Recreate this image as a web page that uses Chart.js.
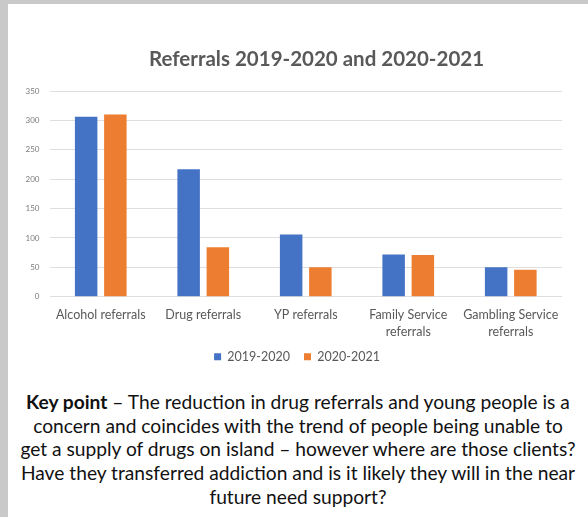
<!DOCTYPE html>
<html>
<head>
<meta charset="utf-8">
<script src="https://cdn.jsdelivr.net/npm/chart.js@4.4.0/dist/chart.umd.min.js"></script>
<style>
	body { margin: 0; background: #c9c9c9; width: 588px; height: 517px; overflow: hidden; }
	#panel { position: absolute; left: 8px; top: 4px; width: 580px; height: 513px; background: #fff; }
	#chartbox { position: absolute; left: 0; top: 0; width: 580px; height: 369px; }
	#titulo {
		position: absolute; left: 141px; top: 42px; width: 340px; height: 25px;
		font-family: Lato, sans-serif; font-weight: bold; font-size: 20.5px; line-height: 25px;
		color: #595959; text-align: left; white-space: nowrap;
	}
	#keypoint {
		position: absolute; left: -10px; top: 386px; width: 600px;
		font-family: Lato, sans-serif; font-size: 19.2px; line-height: 23.7px;
		color: #111; text-align: center; white-space: nowrap;
	}
</style>
</head>
<body>
<div id="panel">
	<div id="chartbox"><canvas id="mycanvas"></canvas></div>
	<div id="titulo">Referrals 2019-2020 and 2020-2021</div>
	<div id="keypoint">
		<b>Key point</b> – The reduction in drug referrals and young people is a<br>
		concern and coincides with the trend of people being unable to<br>
		get a supply of drugs on island – however where are those clients?<br>
		Have they transferred addiction and is it likely they will in the near<br>
		future need support?
	</div>
</div>
<script>
var categorias = [
	"Alcohol referrals",
	"Drug referrals",
	"YP referrals",
	["Family Service", "referrals"],
	["Gambling Service", "referrals"]
];
var referrals_2019_2020 = [306, 217, 106, 72, 50];
var referrals_2020_2021 = [310, 84, 50, 71, 46];
var eixo_y = [0, 50, 100, 150, 200, 250, 300, 350];

var chartdata = {
	labels: categorias,
	datasets: [
		{
			label: "2019-2020",
			backgroundColor: "#4472C4",
			data: referrals_2019_2020,
			barPercentage: 0.77,
			categoryPercentage: 0.57
		},
		{
			label: "2020-2021",
			backgroundColor: "#ED7D31",
			data: referrals_2020_2021,
			barPercentage: 0.77,
			categoryPercentage: 0.57
		}
	]
};

// legend sits a bit right of the canvas centre in the original
var moveLegend = {
	id: 'moveLegend',
	afterLayout: function(chart) {
		chart.legend.left += 12;
		chart.legend.right += 12;
	}
};

var ctx = document.getElementById("mycanvas");

var BarGraph = new Chart(ctx, {
	type: 'bar',
	data: chartdata,
	plugins: [moveLegend],
	options: {
		responsive: true,
		maintainAspectRatio: false,
		animation: false,
		layout: { padding: { left: 0, right: 26, top: 87, bottom: 0 } },
		plugins: {
			title: { display: false },
			legend: {
				display: true,
				position: 'bottom',
				labels: {
					boxWidth: 7,
					boxHeight: 7,
					padding: 14,
					color: "#595959",
					font: { family: "Lato", size: 12.5 }
				}
			},
			tooltip: { enabled: false }
		},
		scales: {
			x: {
				afterFit: function(scale) { scale.height = 39.75; },
				grid: { display: false, drawTicks: false },
				border: { display: false },
				ticks: {
					color: "#595959",
					padding: 10,
					maxRotation: 0,
					autoSkip: false,
					font: { family: "Lato", size: 12.5, lineHeight: 1.33 }
				}
			},
			y: {
				min: eixo_y[0],
				max: eixo_y[eixo_y.length - 1],
				afterFit: function(scale) { scale.width = 41.5; },
				afterBuildTicks: function(scale) {
					scale.ticks = eixo_y.map(function(v) { return { value: v }; });
				},
				grid: { color: "#dedede", lineWidth: 1, drawTicks: false },
				border: { display: false },
				ticks: {
					color: "#7a7a7a",
					padding: 10,
					font: { family: "Lato", size: 8 }
				}
			}
		}
	}
});
</script>
</body>
</html>
